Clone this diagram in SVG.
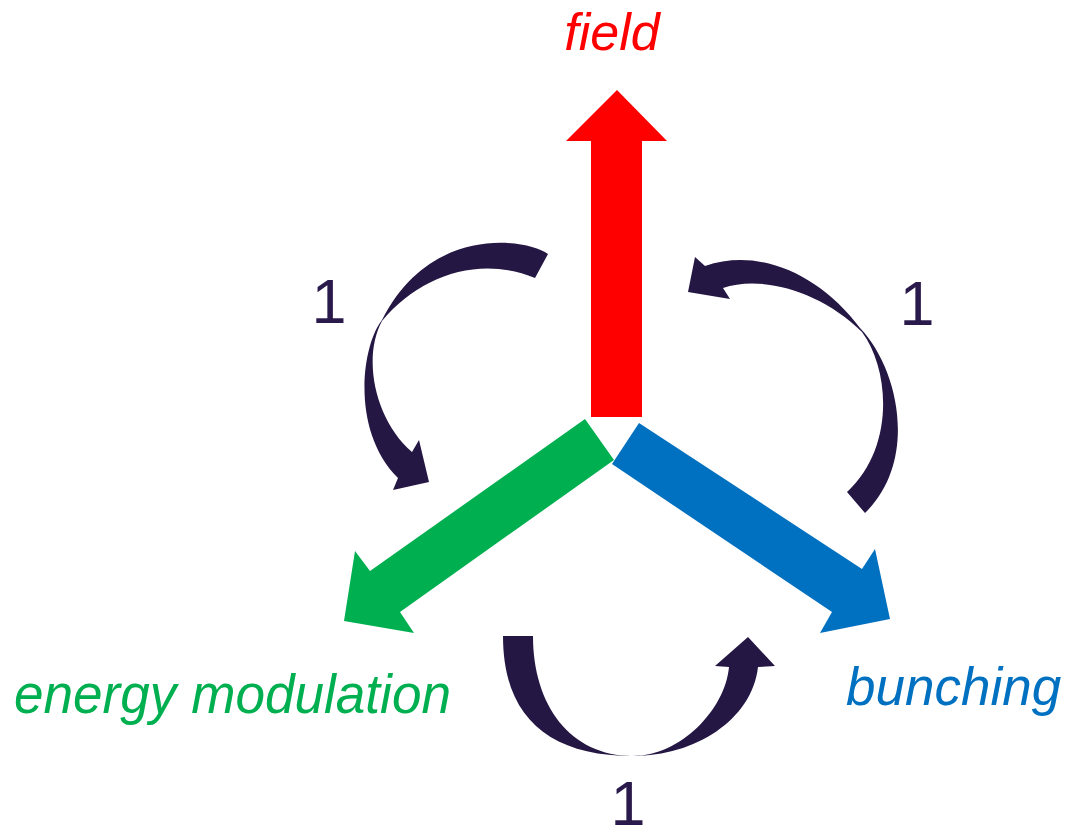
<svg xmlns="http://www.w3.org/2000/svg" width="1066" height="837" viewBox="0 0 1066 837">
<style>
.lbl{font-family:"Liberation Sans",Arial,sans-serif;font-style:italic}
.num{font-family:"Liberation Sans",Arial,sans-serif;font-size:63px;fill:#2a1a4b;text-anchor:middle}
.loop{fill:#251744}
</style>
<rect width="1066" height="837" fill="#ffffff"/>
<g id="field">
<polygon points="591,417 591,141 566,141 617,90 667,141 642,141 642,417" fill="#ff0000"/>
<text class="lbl" x="612" y="50" font-size="52" fill="#ff0000" text-anchor="middle">field</text>
</g>
<g id="energy-modulation">
<polygon points="585,419 614,460 400,612 414,633 344,621 355,551 370,571" fill="#00b050"/>
<text class="lbl" x="14" y="713" font-size="56" fill="#00b050" textLength="437" lengthAdjust="spacingAndGlyphs">energy modulation</text>
</g>
<g id="bunching">
<polygon points="639,423 862,569 875,549 890,619 820,633 832,612 612,464" fill="#0070c0"/>
<text class="lbl" x="846" y="705" font-size="53" fill="#0070c0">bunching</text>
</g>
<g id="connectors">
<path class="loop" d="M548,254 C525,238 430,225 382,320 C362,345 350,430 398,478 L393,490 L429,482 L419,440 L412,452 C375,420 362,358 382,321 C420,275 480,255 535,278 Z"/>
<path class="loop" d="M688,292 L695,257 L705,266 C760,247 820,275 860,328 C900,370 918,462 865,513 L847,492 C895,448 890,370 862,332 C820,290 760,275 723,288 L730,299 Z"/>
<path class="loop" d="M503,636 L533,636 C533,705 570,756 633,756 C680,756 725,710 729,667 L715,666 L748,637 L775,666 L758,667 C752,720 695,756 633,756 C550,756 503,718 503,636 Z"/>
<text class="num" x="329" y="323">1</text>
<text class="num" x="917" y="325">1</text>
<text class="num" x="628" y="825" font-size="60">1</text>
</g>
</svg>
